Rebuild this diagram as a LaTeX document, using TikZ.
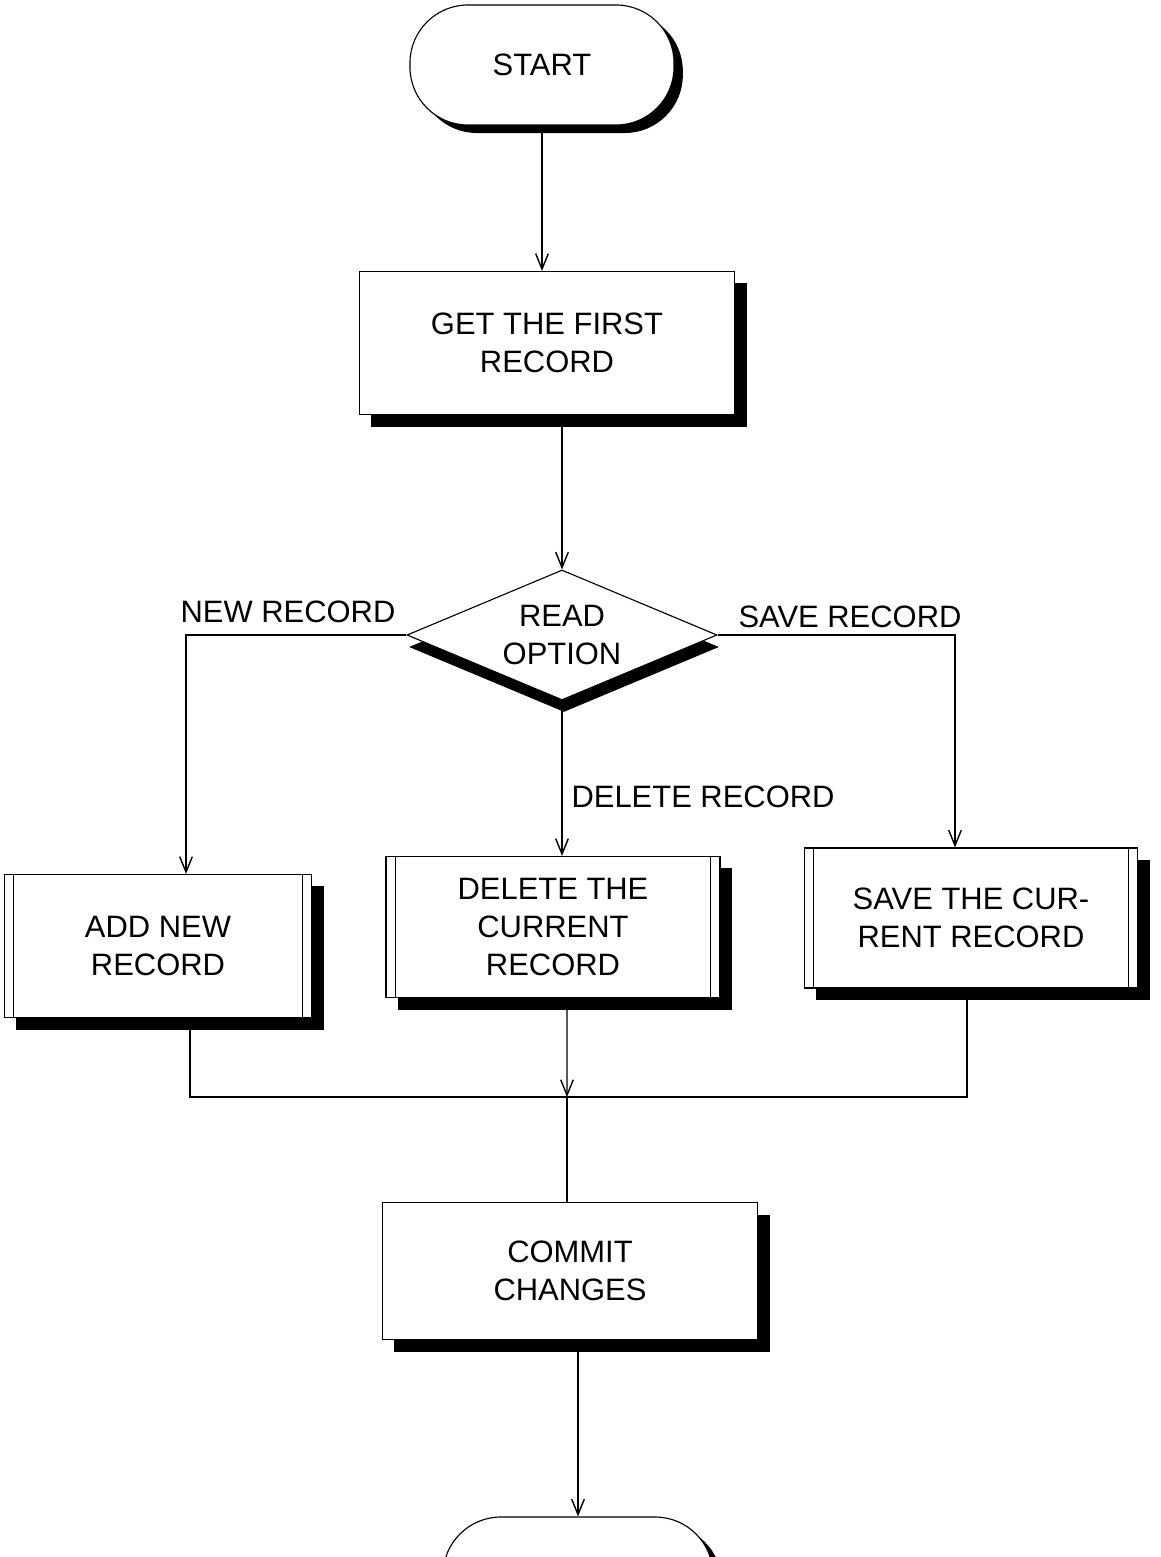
\documentclass[tikz,border=0pt]{standalone}
\usepackage{fontspec}
\setmainfont{Liberation Sans}
\usetikzlibrary{arrows.meta,shapes.geometric,shadows,calc}
\begin{document}
\begin{tikzpicture}[x=0.025cm,y=-0.025cm,
  font=\fontsize{22}{27}\selectfont,
  line width=0.8pt,
  arr/.style={-{Straight Barb[length=11pt,width=9pt,line width=1pt]}},
  shad/.style={drop shadow={shadow xshift=#1,shadow yshift=-0.3cm,fill=black,opacity=1}},
  box/.style={draw,fill=white,rectangle,align=center,inner sep=0pt,shad=0.3cm},
  term/.style={draw,fill=white,rectangle,rounded corners=1.45cm,minimum width=6.6cm,minimum height=3cm,inner sep=0pt,
     drop shadow={shadow xshift=0.22cm,shadow yshift=-0.2cm,fill=black,opacity=1}},
  dec/.style={draw,fill=white,diamond,aspect=2.4,inner sep=0pt,minimum width=7.75cm,minimum height=3.25cm,align=center,
     drop shadow={shadow xshift=0.05cm,shadow yshift=-0.3cm,fill=black,opacity=1}},
  lbl/.style={inner sep=0pt}]
\useasboundingbox (0,0) rectangle (1160,1557);
\clip (0,0) rectangle (1160,1557);
\fill[white] (0,0) rectangle (1160,1557);

% nodes
\node[term] (start) at (542,65) {START};
\node[box,minimum width=9.375cm,minimum height=3.575cm] (get) at (547,343) {GET THE FIRST\\RECORD};
\node[dec] (dia) at (562,635) {READ\\OPTION};
\node[box,minimum width=7.675cm,minimum height=3.575cm] (add) at (158,946) {ADD NEW\\RECORD};
\node[box,minimum width=8.35cm,minimum height=3.525cm] (del) at (553,927) {DELETE THE\\CURRENT\\RECORD};
\node[box,minimum width=8.325cm,minimum height=3.5cm] (save) at (971,918) {SAVE THE CUR-\\RENT RECORD};
\node[box,minimum width=9.375cm,minimum height=3.425cm] (commit) at (570,1271) {COMMIT\\CHANGES};
\node[term,minimum width=6.75cm] (stop) at (578,1577) {};

% predefined-process inner lines
\foreach \n in {add,del,save}{
  \draw ([xshift=0.25cm]\n.north west) -- ([xshift=0.25cm]\n.south west);
  \draw ([xshift=-0.25cm]\n.north east) -- ([xshift=-0.25cm]\n.south east);
}

% labels
\node[lbl] (lnew) at (288,612) {NEW RECORD};
\node[lbl] (lsave) at (850,617) {SAVE RECORD};
\node[lbl,anchor=west] (ldel) at (571,797) {DELETE RECORD};

% connectors
\draw[arr] (start.south) -- (start.south |- get.north);
\draw[arr] (dia.north |- get.south) -- (dia.north);
\draw[arr] (dia.west) -| ([xshift=0.7cm]add.north);
\draw[arr] (dia.east) -| ([xshift=-0.4cm]save.north);
\draw[arr] (dia.south) -- (dia.south |- del.north);

\coordinate (m) at (567,1097);
\draw ([xshift=0.8cm]add.south) |- (m);
\draw (m) -| ([xshift=-0.1cm]save.south);
\draw[arr] ([xshift=0.35cm]del.south) -- (m);
\draw (m) -- (m |- commit.north);
\draw[arr] (stop.north |- commit.south) -- (stop.north);
\end{tikzpicture}
\end{document}
